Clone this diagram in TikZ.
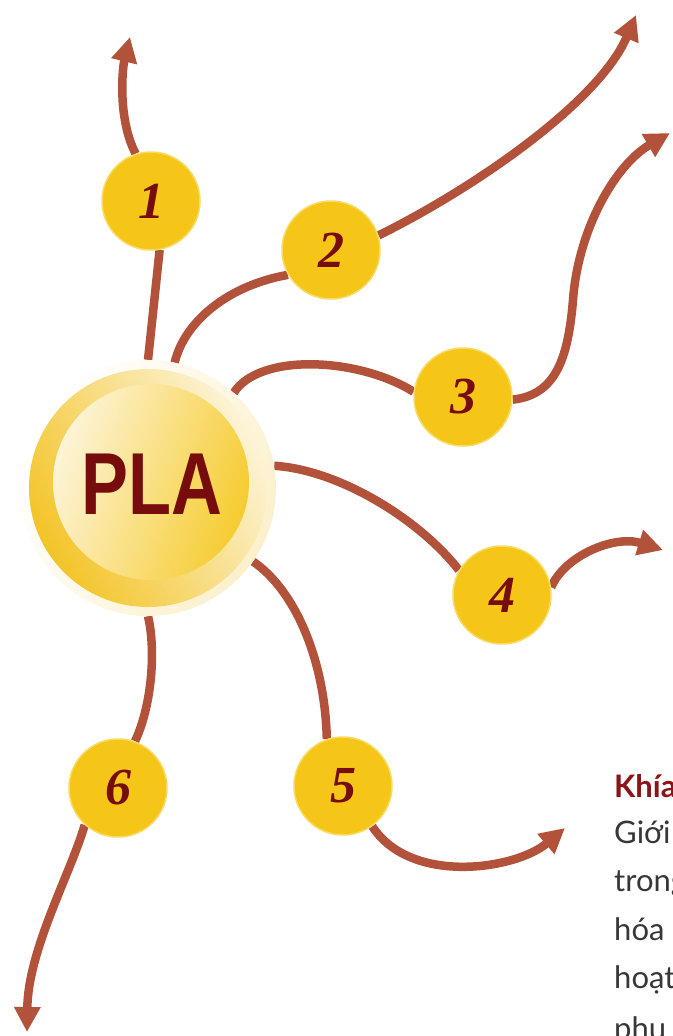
\documentclass[tikz,border=0pt]{standalone}
\usepackage{fontspec}
\usepackage{graphicx}
\usetikzlibrary{arrows.meta}
\newfontfamily\plafont{Liberation Sans}
\newfontfamily\numfont{Liberation Serif}
\newfontfamily\bodyfont{Lato}
\definecolor{branch}{RGB}{178,82,58}
\definecolor{gold}{RGB}{245,198,24}
\definecolor{goldrim}{RGB}{249,218,100}
\definecolor{ringgold}{RGB}{243,196,40}
\definecolor{cream}{RGB}{253,244,216}
\definecolor{halo}{RGB}{252,240,204}
\definecolor{maroon}{RGB}{118,12,12}
\definecolor{headred}{RGB}{140,20,24}
\definecolor{bodygray}{RGB}{55,55,55}
\pgfdeclarelayer{paper}
\pgfdeclarelayer{lines}
\pgfsetlayers{paper,lines,main}
\tikzset{
  branch/.style={draw=branch, line width=8.5pt},
  tipped/.style={branch, -{Triangle[length=25pt,width=25pt]}},
  numdisc/.style={circle, fill=gold, draw=goldrim, line width=1.5pt,
    minimum size=98pt, inner sep=0pt, text=maroon,
    font=\numfont\bfseries\itshape\fontsize{52}{52}\selectfont},
  hub/.style={circle, minimum size=256pt, inner sep=0pt},
  bodytext/.style={anchor=base west, inner sep=0pt, text=bodygray,
    font=\bodyfont\fontsize{31}{37}\selectfont},
}
\begin{document}
\begin{tikzpicture}[x=1pt,y=-1pt]
\useasboundingbox (0,0) rectangle (672,1036);
\begin{pgfonlayer}{paper}
  \fill[white] (0,0) rectangle (672,1036);
\end{pgfonlayer}
\clip (0,0) rectangle (672,1036);

% central hub
\node[hub] (pla) at (148,488) {};
\shade[left color=white, right color=halo, shading angle=60] (pla.center) circle[radius=128];
\shade[top color=cream, bottom color=ringgold, shading angle=-60] (pla.center) circle[radius=119];
\shade[top color=cream, bottom color=gold!90!white, shading angle=70] (151,482) circle[radius=98];
\node[text=maroon, font=\plafont\bfseries\fontsize{88}{88}\selectfont] (plalabel) at (152,484) {\scalebox{0.8}[1]{PLA}};

% numbered discs
\node[numdisc] (n1) at (151,201) {1};
\node[numdisc] (n2) at (331,250) {2};
\node[numdisc] (n3) at (463,397) {3};
\node[numdisc] (n4) at (502,595) {4};
\node[numdisc] (n5) at (343,786) {5};
\node[numdisc] (n6) at (118,788) {6};

% free arrow ends
\coordinate (a1) at (130,37);
\coordinate (a2) at (636,15);
\coordinate (k3) at (573,300);
\coordinate (a3) at (670,133);
\coordinate (a4) at (663,550);
\coordinate (a5) at (565,828);
\coordinate (a6) at (27,1032);

\begin{pgfonlayer}{lines}
  \draw[branch] (pla.90) -- (n1.-80);
  \draw[tipped] (n1.108) .. controls (118,120) and (122,70) .. (a1);

  \draw[branch] (pla.78) .. controls (185,320) and (230,285) .. (n2.-150);
  \draw[tipped] (n2.17) .. controls (480,185) and (600,100) .. (a2);

  \draw[branch] (pla.48) .. controls (260,352) and (360,358) .. (n3.174);
  \draw[tipped] (n3.-3) .. controls (555,395) and (568,360) .. (k3)
                        .. controls (578,230) and (615,165) .. (a3);

  \draw[branch] (pla.10) .. controls (340,470) and (420,520) .. (n4.150);
  \draw[tipped] (n4.9) .. controls (565,555) and (615,535) .. (a4);

  \draw[branch] (pla.-35) .. controls (295,590) and (325,660) .. (n5.109);
  \draw[tipped] (n5.-54) .. controls (410,885) and (515,870) .. (a5);

  \draw[branch] (pla.-90) .. controls (156,650) and (152,705) .. (n6.70);
  \draw[tipped] (n6.-132) .. controls (70,875) and (28,950) .. (a6);
\end{pgfonlayer}

% side text
\node[bodytext, text=headred, font=\bodyfont\bfseries\fontsize{31}{37}\selectfont] (h0) at (614,797) {Khía};
\node[bodytext] (t1) at (614,843) {Giới};
\node[bodytext] (t2) at (614,891) {trong};
\node[bodytext] (t3) at (614,940) {hóa};
\node[bodytext] (t4) at (614,988) {hoạt};
\node[bodytext] (t5) at (614,1039) {phụ};
\end{tikzpicture}
\end{document}
